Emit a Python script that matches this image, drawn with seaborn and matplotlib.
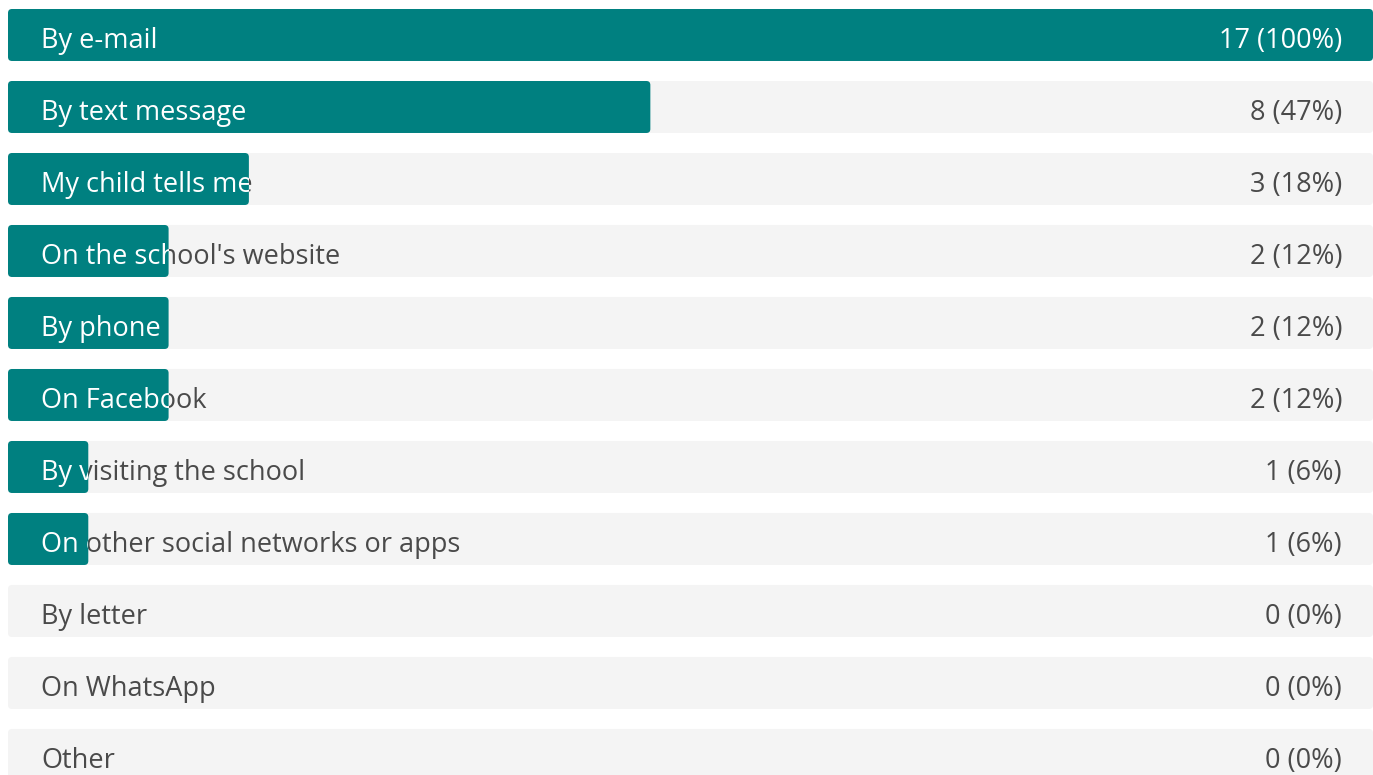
import matplotlib
matplotlib.use("Agg")
import matplotlib.pyplot as plt
from matplotlib.patches import FancyBboxPatch
from matplotlib.transforms import Bbox, TransformedBbox
import pandas as pd
import seaborn as sns

categories = [
    "By e-mail", "By text message", "My child tells me", "On the school's website",
    "By phone", "On Facebook", "By visiting the school",
    "On other social networks or apps", "By letter", "On WhatsApp", "Other",
]
counts = [17, 8, 3, 2, 2, 2, 1, 1, 0, 0, 0]
total = 17

TEAL = "#008080"
TRACK = "#f4f4f4"
GREY_TXT = "#4a4a4a"

sns.set_theme(style="white")
plt.rcParams["font.family"] = ["Open Sans", "DejaVu Sans"]

df = pd.DataFrame({"answer": categories, "count": counts, "full": [total] * len(counts)})

fig = plt.figure(figsize=(13.73, 7.75), dpi=100)
ax = fig.add_axes([8 / 1373, 0, 1365 / 1373, 1])

sns.barplot(data=df, y="answer", x="full", color=TRACK, width=0.722,
            saturation=1, ax=ax, orient="h")
sns.barplot(data=df, y="answer", x="count", color=TEAL, width=0.722,
            saturation=1, ax=ax, orient="h")

ax.set_xlim(0, total)
ax.set_ylim(10.278, -0.486)

# swap the square bars for slightly rounded ones
px_x = total / 1365
px_y = 1 / 72
rad = 4 * px_x
aspect = px_y / px_x
rects = list(ax.patches)
for p in rects:
    p.remove()
n = len(categories)
teal_boxes = {}
for i, p in enumerate(rects):
    w = p.get_width()
    if w <= 0:
        continue
    is_fg = i >= n
    box = FancyBboxPatch((p.get_x(), p.get_y()), w, p.get_height(),
                         boxstyle=f"round,pad=0,rounding_size={rad}",
                         mutation_aspect=aspect,
                         facecolor=p.get_facecolor(), edgecolor="none",
                         linewidth=0, zorder=3 if is_fg else 1)
    ax.add_patch(box)
    if is_fg:
        teal_boxes[i - n] = Bbox.from_bounds(p.get_x(), p.get_y(), w, p.get_height())

label_x = 33 * px_x
count_x = 1334 * px_x
fs = 19.5
for i, (cat, c) in enumerate(zip(categories, counts)):
    val = f"{c} ({round(100 * c / total)}%)"
    for txt, x, ha in [(cat, label_x, "left"), (val, count_x, "right")]:
        ax.text(x, i + 0.08, txt, ha=ha, va="center", fontsize=fs,
                color=GREY_TXT, zorder=2)
        if i in teal_boxes:
            # white copy of the label, visible only where it sits on the teal bar
            t = ax.text(x, i + 0.08, txt, ha=ha, va="center", fontsize=fs,
                        color="white", zorder=4, clip_on=True)
            t.set_clip_path(None)
            t.set_clip_box(TransformedBbox(teal_boxes[i], ax.transData))

ax.set_xlabel("")
ax.set_ylabel("")
ax.set_xticks([])
ax.set_yticks([])
for s in ax.spines.values():
    s.set_visible(False)

fig.savefig("out.png", dpi=100, facecolor="white")
